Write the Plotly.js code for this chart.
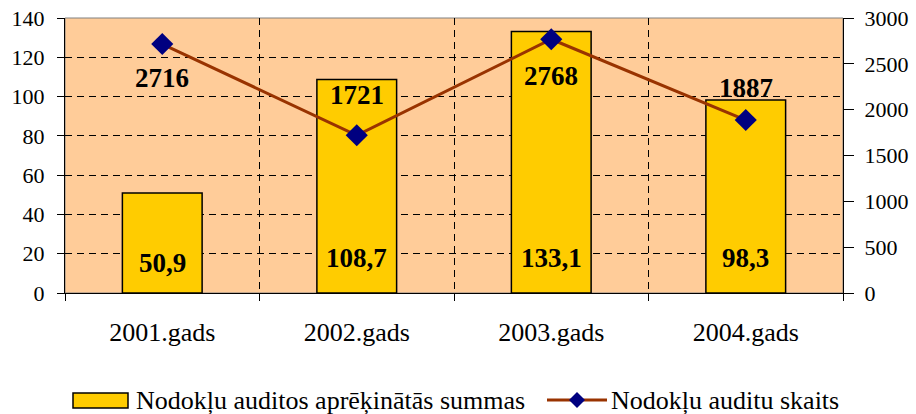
<!DOCTYPE html>
<html>
<head>
<meta charset="utf-8">
<script src="https://cdn.plot.ly/plotly-3.0.1.min.js"></script>
<style>
  html, body { margin: 0; padding: 0; background: #fff; }
  #chart { width: 916px; height: 414px; }
</style>
</head>
<body>
<div id="chart"></div>
<script>
// ---- data ----
const years = ['2001.gads', '2002.gads', '2003.gads', '2004.gads'];
const auditSums = [50.9, 108.7, 133.1, 98.3];      // left axis, bars
const auditCounts = [2716, 1721, 2768, 1887];      // right axis, line
const barName = 'Nodokļu auditos aprēķinātās summas';
const lineName = 'Nodokļu auditu skaits';

// label offsets (px)
const countLabelShift = [-34, 40, -37, 32];
const sumLabelShift = [30, 35, 35, 35];

// ---- geometry helpers ----
const W = 916, H = 414;
const M = { l: 65, r: 73, t: 18, b: 121 };
const PW = W - M.l - M.r, PH = H - M.t - M.b;
const px = x => (x - M.l) / PW;
const py = y => (H - M.b - y) / PH;

const serif = 'Liberation Serif, Times New Roman, serif';
const barColor = '#FFCC00';
const lineColor = '#993300';
const markerColor = '#000080';

const bars = {
    x: years,
    y: auditSums,
    type: 'bar',
    name: barName,
    width: 0.41,
    marker: { color: barColor, line: { color: '#000', width: 1.5 } },
    hoverinfo: 'skip',
    showlegend: false
};

const line = {
    x: years,
    y: auditCounts,
    yaxis: 'y2',
    type: 'scatter',
    mode: 'lines+markers',
    name: lineName,
    line: { color: lineColor, width: 3 },
    marker: { symbol: 'diamond', size: 17, color: markerColor },
    hoverinfo: 'skip',
    showlegend: false
};

const labelFont = { family: serif, size: 27, color: '#000', weight: 'bold' };
const annotations = [];
years.forEach((yr, i) => {
    annotations.push({
        x: yr, y: 0, xref: 'x', yref: 'y',
        text: auditSums[i].toFixed(1).replace('.', ','),
        showarrow: false, yanchor: 'middle', yshift: sumLabelShift[i],
        font: labelFont
    });
    annotations.push({
        x: yr, y: auditCounts[i], xref: 'x', yref: 'y2',
        text: String(auditCounts[i]),
        showarrow: false, yanchor: 'middle', yshift: countLabelShift[i],
        font: labelFont
    });
});

// custom legend
const legY = 400;
const legFont = { family: serif, size: 26, color: '#000' };
annotations.push({
    x: px(134), y: py(legY), xref: 'paper', yref: 'paper',
    text: barName, showarrow: false, xanchor: 'left', yanchor: 'middle',
    font: legFont
});
annotations.push({
    x: px(609), y: py(legY), xref: 'paper', yref: 'paper',
    text: lineName, showarrow: false, xanchor: 'left', yanchor: 'middle',
    font: legFont
});

const dx = 8 / PW, dy = 8 / PH, cx = px(577), cy = py(legY);
const shapes = [
    { type: 'rect', xref: 'paper', yref: 'paper', layer: 'below',
      x0: 0, x1: 1, y0: 0, y1: 1, line: { color: '#808080', width: 1 } },
    { type: 'rect', xref: 'paper', yref: 'paper',
      x0: px(73), x1: px(128), y0: py(393), y1: py(408),
      fillcolor: barColor, line: { color: '#000', width: 1.5 } },
    { type: 'line', xref: 'paper', yref: 'paper',
      x0: px(547), x1: px(607), y0: cy, y1: cy,
      line: { color: lineColor, width: 3 } },
    { type: 'path', xref: 'paper', yref: 'paper',
      path: `M${cx - dx},${cy} L${cx},${cy + dy} L${cx + dx},${cy} L${cx},${cy - dy} Z`,
      fillcolor: markerColor, line: { width: 0 } }
];

const gridDash = '7px,5px';

const layout = {
    width: W, height: H,
    margin: M,
    paper_bgcolor: '#fff',
    plot_bgcolor: '#FFCC99',
    font: { family: serif, size: 22, color: '#000' },
    showlegend: false,
    xaxis: {
        type: 'category',
        tickson: 'boundaries',
        ticks: 'outside', ticklen: 7, tickcolor: '#000',
        showgrid: true, gridcolor: '#000', griddash: gridDash, gridwidth: 1,
        showline: true, linecolor: '#000', linewidth: 1,
        ticklabelstandoff: 16,
        tickfont: { family: serif, size: 26 },
        fixedrange: true
    },
    yaxis: {
        range: [0, 140], dtick: 20,
        ticks: 'outside', ticklen: 7, tickcolor: '#000',
        showgrid: true, gridcolor: '#000', griddash: gridDash, gridwidth: 1,
        showline: true, linecolor: '#000', linewidth: 1,
        zeroline: false,
        ticklabelstandoff: 8,
        tickfont: { family: serif, size: 22 },
        fixedrange: true
    },
    yaxis2: {
        overlaying: 'y', side: 'right',
        range: [0, 3000], dtick: 500,
        ticks: 'outside', ticklen: 10, tickcolor: '#000',
        showgrid: false, zeroline: false,
        showline: true, linecolor: '#000', linewidth: 1,
        ticklabelstandoff: 6,
        tickfont: { family: serif, size: 22 },
        fixedrange: true
    },
    shapes: shapes,
    annotations: annotations
};

Plotly.newPlot('chart', [bars, line], layout, { displayModeBar: false, staticPlot: true });
</script>
</body>
</html>
